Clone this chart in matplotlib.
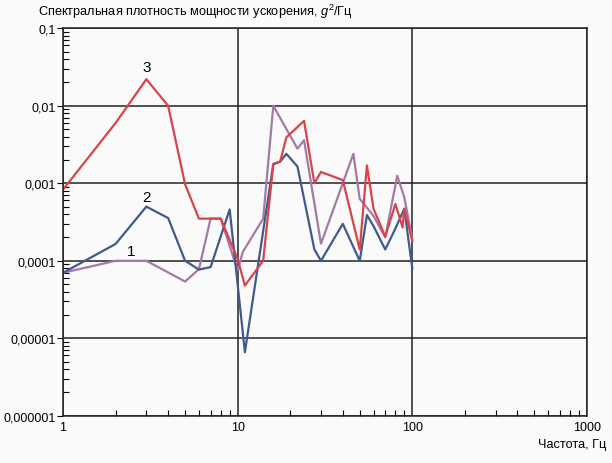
import numpy as np
import matplotlib
matplotlib.use("Agg")
from matplotlib import pyplot as plt
from matplotlib.ticker import FixedLocator, LogLocator, NullFormatter

plt.rcParams['font.family'] = ['Liberation Sans', 'DejaVu Sans']
plt.rcParams['mathtext.fontset'] = 'custom'
plt.rcParams['mathtext.rm'] = 'Liberation Sans'
plt.rcParams['mathtext.it'] = 'Liberation Sans:italic'

# curve 1 (purple)
f1 = [1, 2, 3, 5, 6, 7, 8, 10, 10.7, 14, 16, 22, 24, 30, 46, 50, 60, 70, 82, 90, 100]
psd1 = [7e-5, 1e-4, 1e-4, 5.4e-5, 7.8e-5, 3.5e-4, 3.5e-4, 7.5e-5, 1.3e-4, 3.5e-4, 1e-2,
        2.8e-3, 3.6e-3, 1.66e-4, 2.4e-3, 6.3e-4, 3.8e-4, 2e-4, 1.25e-3, 6.6e-4, 1.9e-4]

# curve 2 (blue)
f2 = [1, 2, 3, 4, 5, 6, 7, 9, 11, 16, 17.5, 19, 22, 27.5, 30, 40, 50, 55, 60, 70, 80, 90, 100]
psd2 = [7e-5, 1.65e-4, 5e-4, 3.56e-4, 1e-4, 7.7e-5, 8.3e-5, 4.6e-4, 6.6e-6, 1.78e-3, 1.9e-3,
        2.4e-3, 1.65e-3, 1.4e-4, 1e-4, 3e-4, 1e-4, 3.9e-4, 2.8e-4, 1.4e-4, 2.6e-4, 4.7e-4, 8e-5]

# curve 3 (red)
f3 = [1, 2, 3, 4, 5, 6, 8, 10, 11, 14, 16, 17.5, 19, 24, 27.5, 30, 40, 50, 55, 60, 70, 80,
      88, 90, 100]
psd3 = [8.3e-4, 6e-3, 2.2e-2, 1e-2, 9.7e-4, 3.5e-4, 3.5e-4, 1.05e-4, 4.8e-5, 1e-4, 1.75e-3,
        1.9e-3, 3.9e-3, 6.4e-3, 1e-3, 1.4e-3, 1.1e-3, 1.4e-4, 1.7e-3, 4.7e-4, 2.05e-4, 5.4e-4,
        2.7e-4, 4.7e-4, 1.8e-4]

xticks = [1, 10, 100, 1000]
xlabels = ["1", "10", "100", "1000"]
yticks = [1e-6, 1e-5, 1e-4, 1e-3, 1e-2, 1e-1]
ylabels = ["0,000001", "0,00001", "0,0001", "0,001", "0,01", "0,1"]

fig = plt.figure(figsize=(6.12, 4.64), dpi=100)
fig.patch.set_facecolor("#fafafa")
ax = fig.add_axes([0.103, 0.1017, 0.856, 0.8352])
ax.set_facecolor("#fafafa")

ax.plot(f1, psd1, color="#a37aa6", lw=1.6)
ax.plot(f2, psd2, color="#3f5a8f", lw=1.6)
ax.plot(f3, psd3, color="#d9434a", lw=1.6)

# curve numbers
ax.text(3, 0.032, "3", ha="center", va="center", fontsize=11)
ax.text(3, 6.6e-4, "2", ha="center", va="center", fontsize=11)
ax.text(2.45, 1.35e-4, "1", ha="center", va="center", fontsize=11)

ax.set_xscale("log")
ax.set_yscale("log")
ax.set_xlim(1, 1000)
ax.set_ylim(1e-6, 0.1)

ax.xaxis.set_major_locator(FixedLocator(xticks))
ax.set_xticklabels(xlabels, fontsize=9)
ax.yaxis.set_major_locator(FixedLocator(yticks))
ax.set_yticklabels(ylabels, fontsize=9)
ax.xaxis.set_minor_locator(LogLocator(base=10, subs=np.arange(2, 10)))
ax.yaxis.set_minor_locator(LogLocator(base=10, subs=np.arange(2, 10)))
ax.xaxis.set_minor_formatter(NullFormatter())
ax.yaxis.set_minor_formatter(NullFormatter())

ax.tick_params(axis="x", which="major", direction="in", length=0, pad=4)
ax.tick_params(axis="x", which="minor", direction="in", length=4, width=0.8)
ax.tick_params(axis="y", which="major", direction="out", length=4, width=0.8, pad=1)
ax.tick_params(axis="y", which="minor", direction="in", length=4, width=0.8)

ax.grid(True, which="major", color="#222222", lw=1.1)
for s in ax.spines.values():
    s.set_color("#222222")
    s.set_linewidth(1.1)

fig.text(38 / 612, 1 - 12 / 464, r"Спектральная плотность мощности ускорения, $g^2$/Гц",
         fontsize=9.2, ha="left", va="center")
fig.text(606 / 612, 1 - 445 / 464, "Частота, Гц", fontsize=9.2, ha="right", va="center")

plt.savefig("out.png", dpi=100, facecolor=fig.get_facecolor())
